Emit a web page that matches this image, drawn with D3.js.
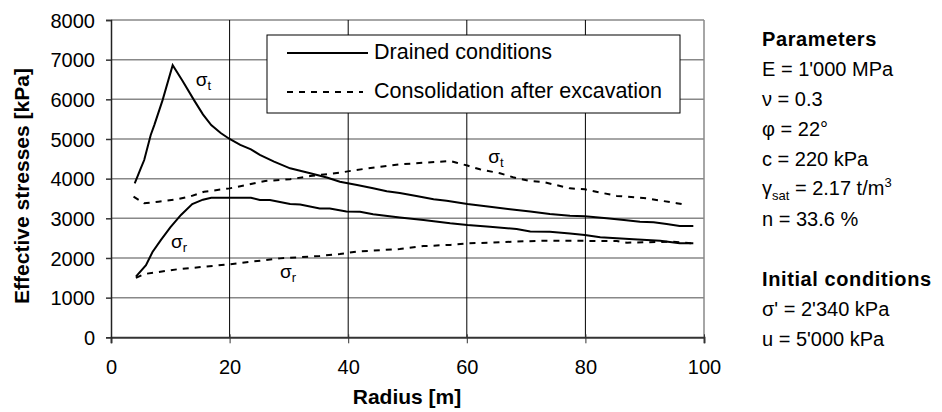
<!DOCTYPE html>
<meta charset="utf-8">
<style>
body { margin: 0; background: #fff; }
svg { font-family: "Liberation Sans", Arial, sans-serif; }
.tick text { font-size: 20px; fill: #000; }
.axis-title { font-size: 21px; font-weight: bold; }
.grid-h { stroke: #888; stroke-width: 1.5; }
.grid-v { stroke: #000; stroke-width: 1; }
.curve { fill: none; stroke: #000; stroke-width: 2; }
.dashed { stroke-dasharray: 6,6; }
.side text { font-size: 20px; }
</style>
<div id="chart"></div>
<script src="https://d3js.org/d3.v7.min.js"></script>
<script>
var width = 942, height = 412;

// radius [m] / effective stress [kPa]
var drainedT = [[4,3880],[5,4250],[5.6,4470],[6.7,5100],[7.3,5350],[8.7,5980],[10.4,6860],[12,6480],[14,5980],[15.5,5620],[16.9,5350],[18.5,5150],[20,5000],[21.8,4850],[23.6,4740],[25.1,4600],[27.5,4430],[30.2,4260],[31.9,4200],[33.6,4135],[36.4,4030],[38.6,3920],[41.5,3840],[44.2,3760],[46.5,3680],[48.7,3640],[51.5,3560],[54.4,3480],[56.6,3440],[60.1,3360],[63.9,3290],[67.3,3230],[70.7,3170],[74,3110],[77.4,3065],[79.9,3055],[83.6,3000],[86.5,2960],[89.2,2915],[91.5,2900],[93.7,2855],[95.9,2805],[98.2,2805]];
var drainedR = [[4.2,1530],[5.9,1820],[7,2150],[8.4,2450],[10,2770],[11.8,3085],[13.7,3360],[15.5,3470],[16.9,3520],[20,3520],[23.6,3520],[25.1,3460],[26.8,3460],[28.5,3410],[30.2,3360],[31.9,3350],[35.2,3250],[36.9,3250],[39.7,3170],[42,3165],[44.2,3100],[48.7,3020],[52.7,2960],[57.2,2875],[60.1,2830],[63.9,2790],[68.4,2730],[70.7,2665],[74,2660],[77.4,2620],[79.9,2580],[82.5,2520],[85.3,2495],[88.1,2470],[92.6,2435],[95.9,2370],[98.2,2370]];
var consolT = [[3.8,3545],[5.6,3380],[8,3420],[11.2,3480],[13.5,3560],[15.7,3670],[20,3755],[23.8,3870],[26,3940],[30.2,3985],[33.6,4065],[38.6,4150],[41.4,4220],[46.5,4320],[48.7,4360],[52.7,4400],[57.2,4445],[58.3,4400],[60.1,4330],[62.2,4235],[65.6,4135],[67.8,4035],[70.7,3940],[72.9,3915],[77.4,3755],[79.9,3730],[85.3,3565],[90.3,3505],[95.4,3380],[97.1,3335]];
var consolR = [[4.2,1500],[5.6,1595],[11.2,1715],[20,1840],[23.6,1905],[28.5,1990],[35.2,2050],[38.6,2100],[41.4,2160],[48.7,2226],[52.7,2300],[57.2,2330],[60.1,2370],[63.9,2385],[67.8,2410],[72.9,2436],[85.3,2428],[87,2385],[94.8,2410],[98.2,2370]];

var xTicks = [0, 20, 40, 60, 80, 100];
var yTicks = [0, 1000, 2000, 3000, 4000, 5000, 6000, 7000, 8000];
var legendNames = ["Drained conditions", "Consolidation after excavation"];
// curve labels: symbol, subscript, radius, stress
var curveLabels = [["σ","t",14.3,6340],["σ","r",10.1,2250],["σ","r",28.5,1495],["σ","t",63.6,4395]];

var svg = d3.select("#chart").append("svg")
    .attr("width", width)
    .attr("height", height);

var x = d3.scaleLinear().domain([0, 100]).range([111, 704]);
var y = d3.scaleLinear().domain([0, 8000]).range([337.3, 20]);

// gridlines
svg.append("g").selectAll("line").data(yTicks.slice(1)).enter().append("line")
    .attr("class", "grid-h")
    .attr("x1", x(0)).attr("x2", x(100))
    .attr("y1", d => y(d)).attr("y2", d => y(d));
svg.append("g").selectAll("line").data(xTicks.slice(1, -1)).enter().append("line")
    .attr("class", "grid-v")
    .attr("x1", d => x(d)).attr("x2", d => x(d))
    .attr("y1", y(8000)).attr("y2", y(0));
svg.append("line").attr("class", "grid-h")
    .attr("x1", x(100)).attr("x2", x(100)).attr("y1", y(8000)).attr("y2", y(0));

// axes
var xAxis = svg.append("g")
    .attr("transform", "translate(0," + y(0) + ")")
    .call(d3.axisBottom(x).tickValues(xTicks).tickFormat(d3.format("d")).tickSize(6).tickPadding(17));
xAxis.select(".domain").attr("stroke", "#333").attr("stroke-width", 2);
xAxis.selectAll(".tick line").attr("stroke", "#333").attr("y1", -3);

var yAxis = svg.append("g")
    .attr("transform", "translate(" + x(0) + ",0)")
    .call(d3.axisLeft(y).tickValues(yTicks).tickFormat(d3.format("d")).tickSize(5).tickPadding(11));
yAxis.select(".domain").attr("stroke", "#222").attr("stroke-width", 1.5);
yAxis.selectAll(".tick line").attr("stroke", "#333").attr("stroke-width", 1.5);
yAxis.selectAll(".tick text").attr("dy", "0.36em");

svg.append("text").attr("class", "axis-title")
    .attr("text-anchor", "middle")
    .attr("x", 407).attr("y", 404)
    .text("Radius [m]");
svg.append("text").attr("class", "axis-title")
    .attr("text-anchor", "middle")
    .attr("transform", "translate(29,186) rotate(-90)")
    .text("Effective stresses [kPa]");

// curves
var line = d3.line().x(d => x(d[0])).y(d => y(d[1]));
[drainedT, drainedR].forEach(function(s) {
  svg.append("path").attr("class", "curve").attr("d", line(s));
});
[consolT, consolR].forEach(function(s) {
  svg.append("path").attr("class", "curve dashed").attr("d", line(s));
});

// curve labels
curveLabels.forEach(function(l) {
  var t = svg.append("text").attr("x", x(l[2])).attr("y", y(l[3])).attr("font-size", 19);
  t.append("tspan").text(l[0]);
  t.append("tspan").attr("font-size", 13).attr("dy", 4).text(l[1]);
});

// legend
var lg = svg.append("g");
lg.append("rect").attr("x", 267).attr("y", 35).attr("width", 413).attr("height", 78)
    .attr("fill", "#fff").attr("stroke", "#000").attr("stroke-width", 1);
legendNames.forEach(function(n, i) {
  var yy = i === 0 ? 53 : 92;
  lg.append("line").attr("class", i === 0 ? "curve" : "curve dashed")
      .attr("x1", 287).attr("x2", i === 0 ? 368 : 363).attr("y1", yy).attr("y2", yy);
  lg.append("text").attr("x", 374).attr("y", yy + 6).attr("font-size", 21.5).text(n);
});

// parameters panel
var side = svg.append("g").attr("class", "side");
function sideLine(yy, parts, bold) {
  var t = side.append("text").attr("x", 762).attr("y", yy);
  if (bold) t.attr("font-weight", "bold").attr("font-size", 21).attr("letter-spacing", 0.6);
  parts.forEach(function(p) {
    var s = t.append("tspan").text(p[0]);
    if (p[1] === "sub") s.attr("font-size", 13).attr("dy", 5);
    if (p[1] === "sup") s.attr("font-size", 13).attr("dy", -8);
    if (p[1] === "back") s.attr("dy", -5);
  });
}
sideLine(46, [["Parameters"]], true);
sideLine(76, [["E = 1'000 MPa"]]);
sideLine(106, [["ν = 0.3"]]);
sideLine(136, [["φ = 22°"]]);
sideLine(166, [["c = 220 kPa"]]);
sideLine(195, [["γ"], ["sat", "sub"], [" = 2.17 t/m", "back"], ["3", "sup"]]);
sideLine(226, [["n = 33.6 %"]]);
sideLine(286, [["Initial conditions"]], true);
sideLine(316, [["σ' = 2'340 kPa"]]);
sideLine(346, [["u = 5'000 kPa"]]);
</script>
